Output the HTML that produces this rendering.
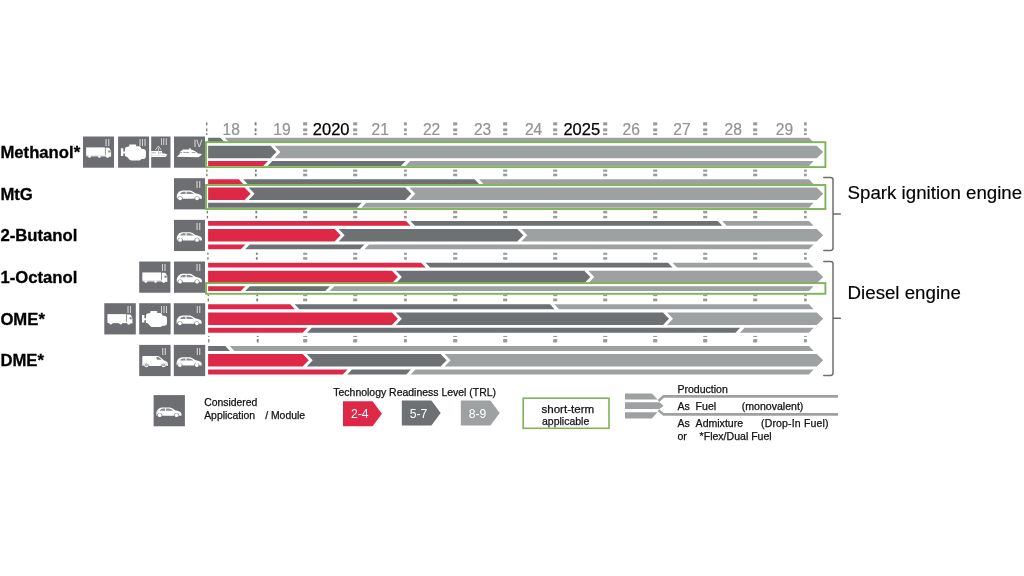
<!DOCTYPE html>
<html lang="en"><head><meta charset="utf-8"><title>Fuel technology readiness roadmap</title>
<style>html,body{margin:0;padding:0;background:#fff;overflow:hidden}svg{display:block}text{font-family:"Liberation Sans",Arial,Helvetica,sans-serif}.lab{font-weight:700;font-size:16.7px;fill:#000;stroke:#000;stroke-width:.3px}.yr{font-size:15.6px;fill:#919396;stroke:#919396;stroke-width:.2px}.yb{font-size:16.5px;fill:#000;stroke:#000;stroke-width:.25px}.lg{font-size:10.4px;fill:#111;stroke:#111;stroke-width:.25px}.p{font-size:10.55px}.eng{font-size:18.7px;fill:#000;stroke:#000;stroke-width:.15px}.tr{font-size:12.2px;fill:#fff}</style></head><body>
<svg width="1024" height="576" viewBox="0 0 1024 576">
<rect width="1024" height="576" fill="#fff"/>
<g fill="#9a9b9d">
<rect fill="#77797c" x="206.05" y="122.3" width="1.3" height="3.1"/>
<rect fill="#77797c" x="206.05" y="128.4" width="1.3" height="2.9"/>
<rect fill="#77797c" x="206.05" y="133.1" width="1.3" height="2"/>
<rect fill="#77797c" x="206.25" y="169.5" width="1.3" height="2.2"/>
<rect fill="#77797c" x="206.25" y="173.7" width="1.3" height="2.6"/>
<rect fill="#77797c" x="206.75" y="210.8" width="1.3" height="2.6"/>
<rect fill="#77797c" x="206.75" y="215.9" width="1.3" height="2.4"/>
<rect fill="#77797c" x="207.25" y="252.7" width="1.3" height="2.1"/>
<rect fill="#77797c" x="207.25" y="257.2" width="1.3" height="2.5"/>
<rect fill="#77797c" x="207.65" y="294.6" width="1.3" height="1.6"/>
<rect fill="#77797c" x="207.65" y="298.5" width="1.3" height="2.8"/>
<rect fill="#77797c" x="208.15" y="335.9" width="1.3" height="1.1"/>
<rect fill="#77797c" x="208.15" y="339.1" width="1.3" height="3.3"/>
<rect fill="#77797c" x="254.7" y="122.3" width="1.8" height="3.1"/>
<rect fill="#77797c" x="254.7" y="128.4" width="1.8" height="2.9"/>
<rect fill="#77797c" x="254.7" y="133.1" width="1.8" height="2"/>
<rect fill="#77797c" x="254.9" y="169.5" width="1.8" height="2.2"/>
<rect fill="#77797c" x="254.9" y="173.7" width="1.8" height="2.6"/>
<rect fill="#77797c" x="255.4" y="210.8" width="1.8" height="2.6"/>
<rect fill="#77797c" x="255.4" y="215.9" width="1.8" height="2.4"/>
<rect fill="#77797c" x="255.9" y="252.7" width="1.8" height="2.1"/>
<rect fill="#77797c" x="255.9" y="257.2" width="1.8" height="2.5"/>
<rect fill="#77797c" x="256.3" y="294.6" width="1.8" height="1.6"/>
<rect fill="#77797c" x="256.3" y="298.5" width="1.8" height="2.8"/>
<rect fill="#77797c" x="256.8" y="335.9" width="1.8" height="1.1"/>
<rect fill="#77797c" x="256.8" y="339.1" width="1.8" height="3.3"/>
<rect x="303.15" y="122.3" width="4.1" height="3.1"/>
<rect x="303.15" y="128.4" width="4.1" height="2.9"/>
<rect x="303.15" y="133.1" width="4.1" height="2"/>
<rect x="303.15" y="169.5" width="4.1" height="2.2"/>
<rect x="303.15" y="173.7" width="4.1" height="2.6"/>
<rect x="303.15" y="210.8" width="4.1" height="2.6"/>
<rect x="303.15" y="215.9" width="4.1" height="2.4"/>
<rect x="303.15" y="252.7" width="4.1" height="2.1"/>
<rect x="303.15" y="257.2" width="4.1" height="2.5"/>
<rect x="303.15" y="294.6" width="4.1" height="1.6"/>
<rect x="303.15" y="298.5" width="4.1" height="2.8"/>
<rect x="303.15" y="335.9" width="4.1" height="1.1"/>
<rect x="303.15" y="339.1" width="4.1" height="3.3"/>
<rect x="353.15" y="122.3" width="4.1" height="3.1"/>
<rect x="353.15" y="128.4" width="4.1" height="2.9"/>
<rect x="353.15" y="133.1" width="4.1" height="2"/>
<rect x="353.15" y="169.5" width="4.1" height="2.2"/>
<rect x="353.15" y="173.7" width="4.1" height="2.6"/>
<rect x="353.15" y="210.8" width="4.1" height="2.6"/>
<rect x="353.15" y="215.9" width="4.1" height="2.4"/>
<rect x="353.15" y="252.7" width="4.1" height="2.1"/>
<rect x="353.15" y="257.2" width="4.1" height="2.5"/>
<rect x="353.15" y="294.6" width="4.1" height="1.6"/>
<rect x="353.15" y="298.5" width="4.1" height="2.8"/>
<rect x="353.15" y="335.9" width="4.1" height="1.1"/>
<rect x="353.15" y="339.1" width="4.1" height="3.3"/>
<rect x="403.95" y="122.3" width="2.9" height="3.1"/>
<rect x="403.95" y="128.4" width="2.9" height="2.9"/>
<rect x="403.95" y="133.1" width="2.9" height="2"/>
<rect x="403.95" y="169.5" width="2.9" height="2.2"/>
<rect x="403.95" y="173.7" width="2.9" height="2.6"/>
<rect x="403.95" y="210.8" width="2.9" height="2.6"/>
<rect x="403.95" y="215.9" width="2.9" height="2.4"/>
<rect x="403.95" y="252.7" width="2.9" height="2.1"/>
<rect x="403.95" y="257.2" width="2.9" height="2.5"/>
<rect x="403.95" y="294.6" width="2.9" height="1.6"/>
<rect x="403.95" y="298.5" width="2.9" height="2.8"/>
<rect x="403.95" y="335.9" width="2.9" height="1.1"/>
<rect x="403.95" y="339.1" width="2.9" height="3.3"/>
<rect x="453.15" y="122.3" width="4.1" height="3.1"/>
<rect x="453.15" y="128.4" width="4.1" height="2.9"/>
<rect x="453.15" y="133.1" width="4.1" height="2"/>
<rect x="453.15" y="169.5" width="4.1" height="2.2"/>
<rect x="453.15" y="173.7" width="4.1" height="2.6"/>
<rect x="453.15" y="210.8" width="4.1" height="2.6"/>
<rect x="453.15" y="215.9" width="4.1" height="2.4"/>
<rect x="453.15" y="252.7" width="4.1" height="2.1"/>
<rect x="453.15" y="257.2" width="4.1" height="2.5"/>
<rect x="453.15" y="294.6" width="4.1" height="1.6"/>
<rect x="453.15" y="298.5" width="4.1" height="2.8"/>
<rect x="453.15" y="335.9" width="4.1" height="1.1"/>
<rect x="453.15" y="339.1" width="4.1" height="3.3"/>
<rect x="503.15" y="122.3" width="4.1" height="3.1"/>
<rect x="503.15" y="128.4" width="4.1" height="2.9"/>
<rect x="503.15" y="133.1" width="4.1" height="2"/>
<rect x="503.15" y="169.5" width="4.1" height="2.2"/>
<rect x="503.15" y="173.7" width="4.1" height="2.6"/>
<rect x="503.15" y="210.8" width="4.1" height="2.6"/>
<rect x="503.15" y="215.9" width="4.1" height="2.4"/>
<rect x="503.15" y="252.7" width="4.1" height="2.1"/>
<rect x="503.15" y="257.2" width="4.1" height="2.5"/>
<rect x="503.15" y="294.6" width="4.1" height="1.6"/>
<rect x="503.15" y="298.5" width="4.1" height="2.8"/>
<rect x="503.15" y="335.9" width="4.1" height="1.1"/>
<rect x="503.15" y="339.1" width="4.1" height="3.3"/>
<rect x="553.15" y="122.3" width="4.1" height="3.1"/>
<rect x="553.15" y="128.4" width="4.1" height="2.9"/>
<rect x="553.15" y="133.1" width="4.1" height="2"/>
<rect x="553.15" y="169.5" width="4.1" height="2.2"/>
<rect x="553.15" y="173.7" width="4.1" height="2.6"/>
<rect x="553.15" y="210.8" width="4.1" height="2.6"/>
<rect x="553.15" y="215.9" width="4.1" height="2.4"/>
<rect x="553.15" y="252.7" width="4.1" height="2.1"/>
<rect x="553.15" y="257.2" width="4.1" height="2.5"/>
<rect x="553.15" y="294.6" width="4.1" height="1.6"/>
<rect x="553.15" y="298.5" width="4.1" height="2.8"/>
<rect x="553.15" y="335.9" width="4.1" height="1.1"/>
<rect x="553.15" y="339.1" width="4.1" height="3.3"/>
<rect x="603.15" y="122.3" width="4.1" height="3.1"/>
<rect x="603.15" y="128.4" width="4.1" height="2.9"/>
<rect x="603.15" y="133.1" width="4.1" height="2"/>
<rect x="603.15" y="169.5" width="4.1" height="2.2"/>
<rect x="603.15" y="173.7" width="4.1" height="2.6"/>
<rect x="603.15" y="210.8" width="4.1" height="2.6"/>
<rect x="603.15" y="215.9" width="4.1" height="2.4"/>
<rect x="603.15" y="252.7" width="4.1" height="2.1"/>
<rect x="603.15" y="257.2" width="4.1" height="2.5"/>
<rect x="603.15" y="294.6" width="4.1" height="1.6"/>
<rect x="603.15" y="298.5" width="4.1" height="2.8"/>
<rect x="603.15" y="335.9" width="4.1" height="1.1"/>
<rect x="603.15" y="339.1" width="4.1" height="3.3"/>
<rect x="653.15" y="122.3" width="4.1" height="3.1"/>
<rect x="653.15" y="128.4" width="4.1" height="2.9"/>
<rect x="653.15" y="133.1" width="4.1" height="2"/>
<rect x="653.15" y="169.5" width="4.1" height="2.2"/>
<rect x="653.15" y="173.7" width="4.1" height="2.6"/>
<rect x="653.15" y="210.8" width="4.1" height="2.6"/>
<rect x="653.15" y="215.9" width="4.1" height="2.4"/>
<rect x="653.15" y="252.7" width="4.1" height="2.1"/>
<rect x="653.15" y="257.2" width="4.1" height="2.5"/>
<rect x="653.15" y="294.6" width="4.1" height="1.6"/>
<rect x="653.15" y="298.5" width="4.1" height="2.8"/>
<rect x="653.15" y="335.9" width="4.1" height="1.1"/>
<rect x="653.15" y="339.1" width="4.1" height="3.3"/>
<rect x="703.15" y="122.3" width="4.1" height="3.1"/>
<rect x="703.15" y="128.4" width="4.1" height="2.9"/>
<rect x="703.15" y="133.1" width="4.1" height="2"/>
<rect x="703.15" y="169.5" width="4.1" height="2.2"/>
<rect x="703.15" y="173.7" width="4.1" height="2.6"/>
<rect x="703.15" y="210.8" width="4.1" height="2.6"/>
<rect x="703.15" y="215.9" width="4.1" height="2.4"/>
<rect x="703.15" y="252.7" width="4.1" height="2.1"/>
<rect x="703.15" y="257.2" width="4.1" height="2.5"/>
<rect x="703.15" y="294.6" width="4.1" height="1.6"/>
<rect x="703.15" y="298.5" width="4.1" height="2.8"/>
<rect x="703.15" y="335.9" width="4.1" height="1.1"/>
<rect x="703.15" y="339.1" width="4.1" height="3.3"/>
<rect x="753.15" y="122.3" width="4.1" height="3.1"/>
<rect x="753.15" y="128.4" width="4.1" height="2.9"/>
<rect x="753.15" y="133.1" width="4.1" height="2"/>
<rect x="753.15" y="169.5" width="4.1" height="2.2"/>
<rect x="753.15" y="173.7" width="4.1" height="2.6"/>
<rect x="753.15" y="210.8" width="4.1" height="2.6"/>
<rect x="753.15" y="215.9" width="4.1" height="2.4"/>
<rect x="753.15" y="252.7" width="4.1" height="2.1"/>
<rect x="753.15" y="257.2" width="4.1" height="2.5"/>
<rect x="753.15" y="294.6" width="4.1" height="1.6"/>
<rect x="753.15" y="298.5" width="4.1" height="2.8"/>
<rect x="753.15" y="335.9" width="4.1" height="1.1"/>
<rect x="753.15" y="339.1" width="4.1" height="3.3"/>
<rect x="804" y="122.3" width="2.8" height="3.1"/>
<rect x="804" y="128.4" width="2.8" height="2.9"/>
<rect x="804" y="133.1" width="2.8" height="2"/>
<rect x="804" y="169.5" width="2.8" height="2.2"/>
<rect x="804" y="173.7" width="2.8" height="2.6"/>
<rect x="804" y="210.8" width="2.8" height="2.6"/>
<rect x="804" y="215.9" width="2.8" height="2.4"/>
<rect x="804" y="252.7" width="2.8" height="2.1"/>
<rect x="804" y="257.2" width="2.8" height="2.5"/>
<rect x="804" y="294.6" width="2.8" height="1.6"/>
<rect x="804" y="298.5" width="2.8" height="2.8"/>
<rect x="804" y="335.9" width="2.8" height="1.1"/>
<rect x="804" y="339.1" width="2.8" height="3.3"/>
</g>
<text class="yr" x="231.3" y="135.1" text-anchor="middle">18</text>
<text class="yr" x="282" y="135.1" text-anchor="middle">19</text>
<text class="yb" x="331.2" y="135.1" text-anchor="middle">2020</text>
<text class="yr" x="380.3" y="135.1" text-anchor="middle">21</text>
<text class="yr" x="431.6" y="135.1" text-anchor="middle">22</text>
<text class="yr" x="482.6" y="135.1" text-anchor="middle">23</text>
<text class="yr" x="533.6" y="135.1" text-anchor="middle">24</text>
<text class="yb" x="581.8" y="135.1" text-anchor="middle">2025</text>
<text class="yr" x="631.3" y="135.1" text-anchor="middle">26</text>
<text class="yr" x="682" y="135.1" text-anchor="middle">27</text>
<text class="yr" x="733.2" y="135.1" text-anchor="middle">28</text>
<text class="yr" x="784.4" y="135.1" text-anchor="middle">29</text>
<g>
<text class="lab" x="0.4" y="157.85">Methanol*</text>
<g transform="translate(83 136.5)"><rect width="31" height="31.2" fill="#6c6e71"/><path fill="#fff" d="M3.1 10.9H21.9V18.7H3.1Z"/><path fill="#fff" d="M3.3 18.7H28V19.9H3.3Z"/><path fill="#fff" d="M22.6 11.2H25.4C26 11.2 26.4 11.4 26.7 12L27.8 14.2C28 14.6 28.1 15 28.1 15.5V20.1H22.6Z"/><circle cx="6.6" cy="20" r="1.35" fill="#fff"/><circle cx="16.4" cy="20" r="1.35" fill="#fff"/><circle cx="24.5" cy="20" r="1.45" fill="#fff"/><path fill="#6d6f72" fill-opacity=".85" d="M25.3 14.1H27.1L27.5 14.9V16.1H25.3Z"/><text transform="translate(24.4 9.9) scale(0.9 1)" text-anchor="middle" text-rendering="geometricPrecision" font-size="10.2" fill="#e2e3e5">II</text></g>
<g transform="translate(118.1 136.5)"><rect width="31" height="31.2" fill="#6c6e71"/><path fill="#fff" d="M2.8 11.8H5.2V15H6.8V12.6C6.8 11.4 7.4 10.7 8.6 10.4L11.2 9.8V7.9H18V9.8H20.6C21.8 9.8 22.6 10.3 23 11.3L23.5 12.5H25.1C26.7 12.5 27.8 13.6 27.8 15.2V19.8C27.8 21.4 26.7 22.5 25.1 22.5H23.2L22.9 22.9C22.5 23.6 21.9 23.9 21.1 23.9H13.5C12.6 23.9 11.9 23.6 11.3 23L9 20.6C8.5 20.1 7.9 19.8 7.2 19.8H6.8V17H5.2V19.4H2.8Z"/><text transform="translate(24.4 9.9) scale(0.9 1)" text-anchor="middle" text-rendering="geometricPrecision" font-size="10.2" fill="#e2e3e5">III</text></g>
<g transform="translate(151.2 136.5)"><rect width="19.3" height="31.2" fill="#6c6e71"/><path fill="#fff" d="M0 14.6H10.6L11.3 16.9H13.6L16.2 18.3C15.7 19.2 15 19.9 14.1 20.4H0Z"/><path fill="none" stroke="#e4e4e5" stroke-width=".8" d="M4.1 13.6L7.2 9.5L10.1 13.6M7.2 11.2V14.8"/><path fill="#6d6f72" fill-opacity=".8" d="M.6 16.1H4.6V16.8H.6ZM8.2 16.1H10.3V16.8H8.2ZM6.9 14.7H7.5V17.6H6.9Z"/><path fill="#6d6f72" fill-opacity=".35" d="M0 18.7H15.8V19.2H0Z"/><text transform="translate(12.6 8.7) scale(0.9 1)" text-anchor="middle" text-rendering="geometricPrecision" font-size="9.8" fill="#e2e3e5">III</text></g>
<g transform="translate(174 136.5)"><rect width="31" height="31.2" fill="#6c6e71"/><path fill="#fff" d="M2.8 20.2L6.3 16.9L5.6 16.7L6 15.3L8.3 13.4C8.8 13 9.3 12.9 9.9 12.9H15.1L15.3 11.7H16.6L16.8 13.1L19.2 13.7L22.4 15.6L24 16.9L28.1 17.4C27.2 18.8 25.9 19.9 24.3 20.7Z"/><path fill="#6d6f72" fill-opacity=".85" d="M5.9 15.6H8.2V16.3H5.7ZM9.4 15.6H15.2V16.3H9.4ZM17.6 15.6H21.2L21.8 16.3H17.6Z"/><text transform="translate(24.1 10.1) scale(0.88 1)" text-anchor="middle" text-rendering="geometricPrecision" font-size="10.4" fill="#e2e3e5">IV</text></g>
<polygon fill="#6d7173" points="208.1,137.65 220.3,137.65 224.9,142.5 208.1,142.5"/>
<polygon fill="#9ea1a2" points="224.7,137.65 809,137.65 813.6,142.5 229.3,142.5"/>
<polygon fill="#6d7173" points="208.1,145.7 270.4,145.7 276.4,151.95 270.4,158.2 208.1,158.2"/>
<polygon fill="#9ea1a2" points="274.4,145.7 816.8,145.7 823.2,151.95 816.8,158.2 274.4,158.2 280.4,151.95"/>
<polygon fill="#de2848" points="208.1,161.1 267.93,161.1 263.27,166 208.1,166"/>
<polygon fill="#6d7173" points="272.33,161.1 405.63,161.1 400.97,166 267.67,166"/>
<polygon fill="#9ea1a2" points="410.03,161.1 813.6,161.1 809,166 405.37,166"/>
</g>
<g>
<text class="lab" x="0.4" y="199.53">MtG</text>
<g transform="translate(174 178.18)"><rect width="31" height="31.2" fill="#6c6e71"/><path fill="#fff" d="M2.8 19.7C2.5 17 3.4 14.8 5.4 13.4C6.6 12.6 8 12.3 9.5 12.3H15C16.6 12.3 17.8 12.7 19 13.5L21.9 15.4C24.2 15.7 26 16.3 27 17.1C27.6 17.6 27.9 18.3 27.9 19.2V20.1L27.5 20.6H25.6A2.6 2.6 0 0 0 20.4 20.6H8.7A2.6 2.6 0 0 0 3.5 20.6H3.2Z"/><circle cx="6.1" cy="20.1" r="1.9" fill="#fff"/><circle cx="23" cy="20.1" r="1.9" fill="#fff"/><path fill="#6d6f72" fill-opacity=".8" d="M6.3 15.5C6.9 14.2 7.9 13.5 9.3 13.5H11.6V15.7H6.3ZM12.6 13.5H15C16.1 13.5 17 13.8 17.9 14.4L19.8 15.7H12.6Z"/><text transform="translate(24.4 9.9) scale(0.9 1)" text-anchor="middle" text-rendering="geometricPrecision" font-size="10.2" fill="#e2e3e5">II</text></g>
<polygon fill="#de2848" points="208.1,179.33 238.8,179.33 243.4,184.18 208.1,184.18"/>
<polygon fill="#6d7173" points="243.2,179.33 474.7,179.33 479.3,184.18 247.8,184.18"/>
<polygon fill="#9ea1a2" points="479.1,179.33 809,179.33 813.6,184.18 483.7,184.18"/>
<polygon fill="#de2848" points="208.1,187.38 244.6,187.38 250.6,193.63 244.6,199.88 208.1,199.88"/>
<polygon fill="#6d7173" points="248.6,187.38 405.3,187.38 411.3,193.63 405.3,199.88 248.6,199.88 254.6,193.63"/>
<polygon fill="#9ea1a2" points="409.3,187.38 816.8,187.38 823.2,193.63 816.8,199.88 409.3,199.88 415.3,193.63"/>
<polygon fill="#6d7173" points="208.1,202.78 361.73,202.78 357.07,207.68 208.1,207.68"/>
<polygon fill="#9ea1a2" points="366.13,202.78 813.6,202.78 809,207.68 361.47,207.68"/>
</g>
<g>
<text class="lab" x="0.4" y="241.21">2-Butanol</text>
<g transform="translate(174 219.86)"><rect width="31" height="31.2" fill="#6c6e71"/><path fill="#fff" d="M2.8 19.7C2.5 17 3.4 14.8 5.4 13.4C6.6 12.6 8 12.3 9.5 12.3H15C16.6 12.3 17.8 12.7 19 13.5L21.9 15.4C24.2 15.7 26 16.3 27 17.1C27.6 17.6 27.9 18.3 27.9 19.2V20.1L27.5 20.6H25.6A2.6 2.6 0 0 0 20.4 20.6H8.7A2.6 2.6 0 0 0 3.5 20.6H3.2Z"/><circle cx="6.1" cy="20.1" r="1.9" fill="#fff"/><circle cx="23" cy="20.1" r="1.9" fill="#fff"/><path fill="#6d6f72" fill-opacity=".8" d="M6.3 15.5C6.9 14.2 7.9 13.5 9.3 13.5H11.6V15.7H6.3ZM12.6 13.5H15C16.1 13.5 17 13.8 17.9 14.4L19.8 15.7H12.6Z"/><text transform="translate(24.4 9.9) scale(0.9 1)" text-anchor="middle" text-rendering="geometricPrecision" font-size="10.2" fill="#e2e3e5">II</text></g>
<polygon fill="#de2848" points="208.1,221.01 406,221.01 410.6,225.86 208.1,225.86"/>
<polygon fill="#6d7173" points="410.4,221.01 717.7,221.01 722.3,225.86 415,225.86"/>
<polygon fill="#9ea1a2" points="722.1,221.01 809,221.01 813.6,225.86 726.7,225.86"/>
<polygon fill="#de2848" points="208.1,229.06 334.6,229.06 340.6,235.31 334.6,241.56 208.1,241.56"/>
<polygon fill="#6d7173" points="338.6,229.06 517.3,229.06 523.3,235.31 517.3,241.56 338.6,241.56 344.6,235.31"/>
<polygon fill="#9ea1a2" points="521.3,229.06 816.8,229.06 823.2,235.31 816.8,241.56 521.3,241.56 527.3,235.31"/>
<polygon fill="#de2848" points="208.1,244.46 245.43,244.46 240.77,249.36 208.1,249.36"/>
<polygon fill="#6d7173" points="249.83,244.46 364.53,244.46 359.87,249.36 245.17,249.36"/>
<polygon fill="#9ea1a2" points="368.93,244.46 813.6,244.46 809,249.36 364.27,249.36"/>
</g>
<g>
<text class="lab" x="0.4" y="282.89">1-Octanol</text>
<g transform="translate(139.2 261.54)"><rect width="31.2" height="31.2" fill="#6c6e71"/><path fill="#fff" d="M3.1 10.9H21.9V18.7H3.1Z"/><path fill="#fff" d="M3.3 18.7H28V19.9H3.3Z"/><path fill="#fff" d="M22.6 11.2H25.4C26 11.2 26.4 11.4 26.7 12L27.8 14.2C28 14.6 28.1 15 28.1 15.5V20.1H22.6Z"/><circle cx="6.6" cy="20" r="1.35" fill="#fff"/><circle cx="16.4" cy="20" r="1.35" fill="#fff"/><circle cx="24.5" cy="20" r="1.45" fill="#fff"/><path fill="#6d6f72" fill-opacity=".85" d="M25.3 14.1H27.1L27.5 14.9V16.1H25.3Z"/><text transform="translate(24.6 9.9) scale(0.9 1)" text-anchor="middle" text-rendering="geometricPrecision" font-size="10.2" fill="#e2e3e5">II</text></g>
<g transform="translate(174 261.54)"><rect width="31" height="31.2" fill="#6c6e71"/><path fill="#fff" d="M2.8 19.7C2.5 17 3.4 14.8 5.4 13.4C6.6 12.6 8 12.3 9.5 12.3H15C16.6 12.3 17.8 12.7 19 13.5L21.9 15.4C24.2 15.7 26 16.3 27 17.1C27.6 17.6 27.9 18.3 27.9 19.2V20.1L27.5 20.6H25.6A2.6 2.6 0 0 0 20.4 20.6H8.7A2.6 2.6 0 0 0 3.5 20.6H3.2Z"/><circle cx="6.1" cy="20.1" r="1.9" fill="#fff"/><circle cx="23" cy="20.1" r="1.9" fill="#fff"/><path fill="#6d6f72" fill-opacity=".8" d="M6.3 15.5C6.9 14.2 7.9 13.5 9.3 13.5H11.6V15.7H6.3ZM12.6 13.5H15C16.1 13.5 17 13.8 17.9 14.4L19.8 15.7H12.6Z"/><text transform="translate(24.4 9.9) scale(0.9 1)" text-anchor="middle" text-rendering="geometricPrecision" font-size="10.2" fill="#e2e3e5">II</text></g>
<polygon fill="#de2848" points="208.1,262.69 421.1,262.69 425.7,267.54 208.1,267.54"/>
<polygon fill="#6d7173" points="425.5,262.69 668,262.69 672.6,267.54 430.1,267.54"/>
<polygon fill="#9ea1a2" points="672.4,262.69 809,262.69 813.6,267.54 677,267.54"/>
<polygon fill="#de2848" points="208.1,270.74 391.9,270.74 397.9,276.99 391.9,283.24 208.1,283.24"/>
<polygon fill="#6d7173" points="395.9,270.74 584.3,270.74 590.3,276.99 584.3,283.24 395.9,283.24 401.9,276.99"/>
<polygon fill="#9ea1a2" points="588.3,270.74 816.8,270.74 823.2,276.99 816.8,283.24 588.3,283.24 594.3,276.99"/>
<polygon fill="#de2848" points="208.1,286.14 245.43,286.14 240.77,291.04 208.1,291.04"/>
<polygon fill="#6d7173" points="249.83,286.14 329.93,286.14 325.27,291.04 245.17,291.04"/>
<polygon fill="#9ea1a2" points="334.33,286.14 813.6,286.14 809,291.04 329.67,291.04"/>
</g>
<g>
<text class="lab" x="0.4" y="324.57">OME*</text>
<g transform="translate(104.3 303.22)"><rect width="31.5" height="31.2" fill="#6c6e71"/><path fill="#fff" d="M3.1 10.9H21.9V18.7H3.1Z"/><path fill="#fff" d="M3.3 18.7H28V19.9H3.3Z"/><path fill="#fff" d="M22.6 11.2H25.4C26 11.2 26.4 11.4 26.7 12L27.8 14.2C28 14.6 28.1 15 28.1 15.5V20.1H22.6Z"/><circle cx="6.6" cy="20" r="1.35" fill="#fff"/><circle cx="16.4" cy="20" r="1.35" fill="#fff"/><circle cx="24.5" cy="20" r="1.45" fill="#fff"/><path fill="#6d6f72" fill-opacity=".85" d="M25.3 14.1H27.1L27.5 14.9V16.1H25.3Z"/><text transform="translate(24.9 9.9) scale(0.9 1)" text-anchor="middle" text-rendering="geometricPrecision" font-size="10.2" fill="#e2e3e5">II</text></g>
<g transform="translate(139.2 303.22)"><rect width="31.4" height="31.2" fill="#6c6e71"/><path fill="#fff" d="M2.8 11.8H5.2V15H6.8V12.6C6.8 11.4 7.4 10.7 8.6 10.4L11.2 9.8V7.9H18V9.8H20.6C21.8 9.8 22.6 10.3 23 11.3L23.5 12.5H25.1C26.7 12.5 27.8 13.6 27.8 15.2V19.8C27.8 21.4 26.7 22.5 25.1 22.5H23.2L22.9 22.9C22.5 23.6 21.9 23.9 21.1 23.9H13.5C12.6 23.9 11.9 23.6 11.3 23L9 20.6C8.5 20.1 7.9 19.8 7.2 19.8H6.8V17H5.2V19.4H2.8Z"/><text transform="translate(24.8 9.9) scale(0.9 1)" text-anchor="middle" text-rendering="geometricPrecision" font-size="10.2" fill="#e2e3e5">III</text></g>
<g transform="translate(173.8 303.22)"><rect width="31.4" height="31.2" fill="#6c6e71"/><path fill="#fff" d="M2.8 19.7C2.5 17 3.4 14.8 5.4 13.4C6.6 12.6 8 12.3 9.5 12.3H15C16.6 12.3 17.8 12.7 19 13.5L21.9 15.4C24.2 15.7 26 16.3 27 17.1C27.6 17.6 27.9 18.3 27.9 19.2V20.1L27.5 20.6H25.6A2.6 2.6 0 0 0 20.4 20.6H8.7A2.6 2.6 0 0 0 3.5 20.6H3.2Z"/><circle cx="6.1" cy="20.1" r="1.9" fill="#fff"/><circle cx="23" cy="20.1" r="1.9" fill="#fff"/><path fill="#6d6f72" fill-opacity=".8" d="M6.3 15.5C6.9 14.2 7.9 13.5 9.3 13.5H11.6V15.7H6.3ZM12.6 13.5H15C16.1 13.5 17 13.8 17.9 14.4L19.8 15.7H12.6Z"/><text transform="translate(24.8 9.9) scale(0.9 1)" text-anchor="middle" text-rendering="geometricPrecision" font-size="10.2" fill="#e2e3e5">II</text></g>
<polygon fill="#de2848" points="208.1,304.37 290.3,304.37 294.9,309.22 208.1,309.22"/>
<polygon fill="#6d7173" points="294.7,304.37 550,304.37 554.6,309.22 299.3,309.22"/>
<polygon fill="#9ea1a2" points="554.4,304.37 809,304.37 813.6,309.22 559,309.22"/>
<polygon fill="#de2848" points="208.1,312.42 391.9,312.42 397.9,318.67 391.9,324.92 208.1,324.92"/>
<polygon fill="#6d7173" points="395.9,312.42 663,312.42 669,318.67 663,324.92 395.9,324.92 401.9,318.67"/>
<polygon fill="#9ea1a2" points="667,312.42 816.8,312.42 823.2,318.67 816.8,324.92 667,324.92 673,318.67"/>
<polygon fill="#de2848" points="208.1,327.82 307.33,327.82 302.67,332.72 208.1,332.72"/>
<polygon fill="#6d7173" points="311.73,327.82 740.13,327.82 735.47,332.72 307.07,332.72"/>
<polygon fill="#9ea1a2" points="744.53,327.82 813.6,327.82 809,332.72 739.87,332.72"/>
</g>
<g>
<text class="lab" x="0.4" y="366.25">DME*</text>
<g transform="translate(139.2 344.9)"><rect width="31.4" height="31.2" fill="#6c6e71"/><path fill="#fff" d="M3.1 12.4C3.1 11.6 3.5 11.2 4.3 11.2H18.1C19.1 11.2 19.9 11.5 20.7 12.1L25.3 15.9C26.8 16.3 27.8 16.9 28.3 17.7C28.6 18.2 28.7 18.7 28.7 19.4V20.6L28.2 21.1H27.3A2.9 2.9 0 0 0 21.5 21.1H10.1A2.9 2.9 0 0 0 4.3 21.1H3.7L3.1 20.5Z"/><circle cx="7.2" cy="19.9" r="2.35" fill="#fff"/><circle cx="24.4" cy="19.9" r="2.35" fill="#fff"/><circle cx="7.2" cy="19.9" r="1.35" fill="#8b8d90"/><circle cx="24.4" cy="19.9" r="1.35" fill="#8b8d90"/><circle cx="7.2" cy="19.9" r=".55" fill="#fff"/><circle cx="24.4" cy="19.9" r=".55" fill="#fff"/><path fill="#6d6f72" fill-opacity=".85" d="M16.9 12.2H18.6C19.2 12.2 19.7 12.4 20.2 12.8L22.6 14.9H17.9Z"/><text transform="translate(24.8 9.9) scale(0.9 1)" text-anchor="middle" text-rendering="geometricPrecision" font-size="10.2" fill="#e2e3e5">II</text></g>
<g transform="translate(173.8 344.9)"><rect width="31.4" height="31.2" fill="#6c6e71"/><path fill="#fff" d="M2.8 19.7C2.5 17 3.4 14.8 5.4 13.4C6.6 12.6 8 12.3 9.5 12.3H15C16.6 12.3 17.8 12.7 19 13.5L21.9 15.4C24.2 15.7 26 16.3 27 17.1C27.6 17.6 27.9 18.3 27.9 19.2V20.1L27.5 20.6H25.6A2.6 2.6 0 0 0 20.4 20.6H8.7A2.6 2.6 0 0 0 3.5 20.6H3.2Z"/><circle cx="6.1" cy="20.1" r="1.9" fill="#fff"/><circle cx="23" cy="20.1" r="1.9" fill="#fff"/><path fill="#6d6f72" fill-opacity=".8" d="M6.3 15.5C6.9 14.2 7.9 13.5 9.3 13.5H11.6V15.7H6.3ZM12.6 13.5H15C16.1 13.5 17 13.8 17.9 14.4L19.8 15.7H12.6Z"/><text transform="translate(24.8 9.9) scale(0.9 1)" text-anchor="middle" text-rendering="geometricPrecision" font-size="10.2" fill="#e2e3e5">II</text></g>
<polygon fill="#6d7173" points="208.1,346.05 225.3,346.05 229.9,350.9 208.1,350.9"/>
<polygon fill="#9ea1a2" points="229.7,346.05 809,346.05 813.6,350.9 234.3,350.9"/>
<polygon fill="#de2848" points="208.1,354.1 302.7,354.1 308.7,360.35 302.7,366.6 208.1,366.6"/>
<polygon fill="#6d7173" points="306.7,354.1 440.6,354.1 446.6,360.35 440.6,366.6 306.7,366.6 312.7,360.35"/>
<polygon fill="#9ea1a2" points="444.6,354.1 816.8,354.1 823.2,360.35 816.8,366.6 444.6,366.6 450.6,360.35"/>
<polygon fill="#de2848" points="208.1,369.5 347.53,369.5 342.87,374.4 208.1,374.4"/>
<polygon fill="#6d7173" points="351.93,369.5 410.93,369.5 406.27,374.4 347.27,374.4"/>
<polygon fill="#9ea1a2" points="415.33,369.5 813.6,369.5 809,374.4 410.67,374.4"/>
</g>
<g fill="none" stroke="#7db556" stroke-width="1.9">
<rect x="206" y="142.2" width="619.4" height="24.9"/>
<rect x="206" y="185" width="619.4" height="24"/>
<rect x="206" y="283.1" width="619.4" height="10.7"/>
</g>
<g fill="none" stroke="#6b6d70" stroke-width="1.5" stroke-linecap="round" stroke-linejoin="round">
<path d="M823.8 177.6H830.6Q833 177.6 833 180V248Q833 250.4 830.6 250.4H823.8M833 214H840.4"/>
<path d="M823.8 261.4H830.6Q833 261.4 833 263.8V373Q833 375.4 830.6 375.4H823.8M833 318.3H840.4"/>
</g>
<text class="eng" x="847.6" y="198.8">Spark ignition engine</text>
<text class="eng" x="847.6" y="298.8">Diesel engine</text>
<g>
<g transform="translate(153.6 395.1)"><rect width="31.3" height="31.2" fill="#6c6e71"/><path fill="#fff" d="M2.8 19.7C2.5 17 3.4 14.8 5.4 13.4C6.6 12.6 8 12.3 9.5 12.3H15C16.6 12.3 17.8 12.7 19 13.5L21.9 15.4C24.2 15.7 26 16.3 27 17.1C27.6 17.6 27.9 18.3 27.9 19.2V20.1L27.5 20.6H25.6A2.6 2.6 0 0 0 20.4 20.6H8.7A2.6 2.6 0 0 0 3.5 20.6H3.2Z"/><circle cx="6.1" cy="20.1" r="1.9" fill="#fff"/><circle cx="23" cy="20.1" r="1.9" fill="#fff"/><path fill="#6d6f72" fill-opacity=".8" d="M6.3 15.5C6.9 14.2 7.9 13.5 9.3 13.5H11.6V15.7H6.3ZM12.6 13.5H15C16.1 13.5 17 13.8 17.9 14.4L19.8 15.7H12.6Z"/></g>
<text class="lg" x="204.2" y="406.3">Considered</text>
<text class="lg" x="204.2" y="418.8">Application</text>
<text class="lg" x="265.2" y="418.8">/ Module</text>
<text class="lg" x="333.3" y="395.8" style="font-size:10.46px">Technology Readiness Level (TRL)</text>
<polygon fill="#de2848" points="343,401.3 372.6,401.3 381.9,413.75 372.6,426.2 343,426.2"/><text class="tr" x="359.8" y="418.35" text-anchor="middle">2-4</text>
<polygon fill="#6d7173" points="401.8,400.6 431.4,400.6 440.7,413.05 431.4,425.5 401.8,425.5"/><text class="tr" x="418.6" y="417.65" text-anchor="middle">5-7</text>
<polygon fill="#9ea1a2" points="460.8,400.6 490.4,400.6 499.7,413.05 490.4,425.5 460.8,425.5"/><text class="tr" x="477.6" y="417.65" text-anchor="middle">8-9</text>
<rect x="523.2" y="398.2" width="85.8" height="30.1" fill="#fff" stroke="#7db556" stroke-width="1.6"/>
<text class="lg" x="541.4" y="412.7" style="font-size:11.5px" textLength="52.8" lengthAdjust="spacingAndGlyphs">short-term</text>
<text class="lg" x="542" y="424.7" style="font-size:11.5px" textLength="47.3" lengthAdjust="spacingAndGlyphs">applicable</text>
<g fill="#9ea1a2">
<polygon points="625,393.5 651.9,393.5 657.5,399.4 625,399.4"/>
<polygon points="625,402.3 659.4,402.3 663.6,405.7 659.4,409.1 625,409.1"/>
<polygon points="625,412.3 657.5,412.3 651.9,418.4 625,418.4"/>
</g>
<g fill="none" stroke="#9ea1a2" stroke-width="2.6">
<path d="M658.4 401L663.6 396.4H838"/>
<path d="M658.4 410.2L663.6 414.4H838"/>
</g>
<text class="lg p" x="677.4" y="393.2">Production</text>
<text class="lg p" x="677.4" y="409.6">As</text>
<text class="lg p" x="695.6" y="409.6">Fuel</text>
<text class="lg p" x="741.8" y="409.6">(monovalent)</text>
<text class="lg p" x="677.4" y="426.7">As</text>
<text class="lg p" x="695.6" y="426.7">Admixture</text>
<text class="lg p" x="761" y="426.7" textLength="67.6" lengthAdjust="spacing">(Drop-In Fuel)</text>
<text class="lg p" x="677.4" y="439.7">or</text>
<text class="lg p" x="699.6" y="439.7">*Flex/Dual Fuel</text>
</g>
</svg></body></html>
